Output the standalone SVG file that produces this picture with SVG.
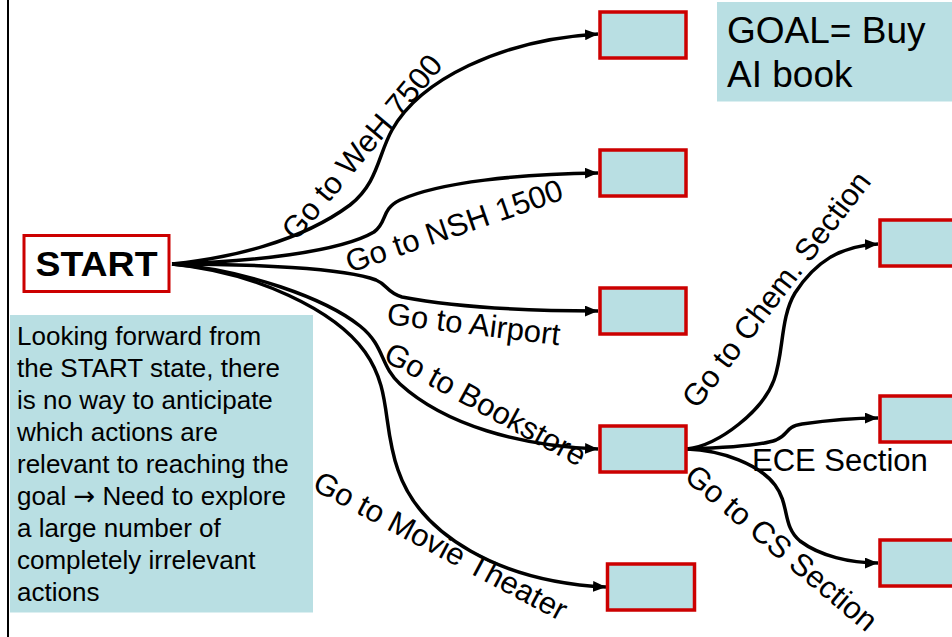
<svg xmlns="http://www.w3.org/2000/svg" width="952" height="637" viewBox="0 0 952 637">
  <defs>
    <style>
      .node { fill: #B9DFE3; stroke: #CC0000; stroke-width: 3.5; }
      .note { fill: #B9DFE3; stroke: none; }
      .edge { fill: none; stroke: #000; stroke-width: 3.5; }
      .lbl { font-family: "Liberation Sans", Arial, sans-serif; font-size: 31px; fill: #000; }
      .body { font-family: "Liberation Sans", Arial, sans-serif; font-size: 26px; fill: #000; }
      .goal { font-family: "Liberation Sans", Arial, sans-serif; font-size: 37px; fill: #000; }
      .start { font-family: "Liberation Sans", Arial, sans-serif; font-size: 35px; font-weight: bold; fill: #000; }
      .sym { font-family: "DejaVu Sans", sans-serif; }
    </style>
    <marker id="arr" viewBox="0 0 12 10" refX="12" refY="5" markerWidth="13" markerHeight="11" markerUnits="userSpaceOnUse" orient="auto">
      <path d="M0,0 L12,5 L0,10 z" fill="#000"/>
    </marker>
  </defs>

  <rect width="952" height="637" fill="#fff"/>
  <line x1="8" y1="0" x2="8" y2="637" stroke="#000" stroke-width="2"/>

  <g id="connectors">
    <path class="edge" marker-end="url(#arr)" d="M172,264 C230,258 300,242 350,205 C378,183 378,155 392,130 C420,80 500,40 598,34"/>
    <path class="edge" marker-end="url(#arr)" d="M172,264 C250,262 340,252 374,232 C388,222 380,210 400,200 C440,182 520,174 598,173"/>
    <path class="edge" marker-end="url(#arr)" d="M172,264 C250,264 345,268 376,280 C388,285 386,292 402,297 C460,308 530,311 598,311"/>
    <path class="edge" marker-end="url(#arr)" d="M172,264 C245,270 325,298 360,326 C385,346 380,366 400,384 C445,425 520,446 598,449"/>
    <path class="edge" marker-end="url(#arr)" d="M172,264 C255,272 335,310 365,352 C392,390 382,425 398,470 C420,535 500,582 606,587"/>
    <path class="edge" marker-end="url(#arr)" d="M687,449 C720,445 763,410 774,380 C784,352 780,318 795,293 C815,262 840,246 878,244"/>
    <path class="edge" marker-end="url(#arr)" d="M687,449 C720,448 760,446 776,440 C790,434 784,427 802,424 C830,420 855,418 878,418"/>
    <path class="edge" marker-end="url(#arr)" d="M687,449 C722,450 760,465 775,485 C790,505 782,526 800,541 C820,556 850,563 878,563"/>

    <text class="lbl" transform="translate(296,242) rotate(-50)">Go to WeH 7500</text>
    <text class="lbl" transform="translate(350,273) rotate(-19)">Go to NSH 1500</text>
    <text class="lbl" transform="translate(386,324) rotate(7)">Go to Airport</text>
    <text class="lbl" transform="translate(382,360) rotate(28.5)">Go to Bookstore</text>
    <text class="lbl" transform="translate(311,489) rotate(28)">Go to Movie Theater</text>
    <text class="lbl" transform="translate(697,410) rotate(-52.5)">Go to Chem. Section</text>
    <text class="lbl" x="752" y="471">ECE Section</text>
    <text class="lbl" transform="translate(683,479) rotate(40)">Go to CS Section</text>
  </g>

  <g id="start">
    <rect x="24" y="235.5" width="145" height="56" fill="#fff" stroke="#CC0000" stroke-width="3"/>
    <text class="start" x="96.5" y="276" text-anchor="middle" textLength="122" lengthAdjust="spacingAndGlyphs">START</text>
  </g>

  <g id="n-weh"><rect class="node" x="600" y="12" width="86" height="46"/></g>
  <g id="n-nsh"><rect class="node" x="600" y="150" width="86" height="46"/></g>
  <g id="n-airport"><rect class="node" x="600" y="288" width="86" height="46"/></g>
  <g id="n-bookstore"><rect class="node" x="600" y="426" width="86" height="46"/></g>
  <g id="n-movie"><rect class="node" x="607.5" y="564" width="87" height="46"/></g>
  <g id="n-chem"><rect class="node" x="880" y="220" width="80" height="46"/></g>
  <g id="n-ece"><rect class="node" x="880" y="396" width="80" height="46"/></g>
  <g id="n-cs"><rect class="node" x="880" y="540" width="80" height="46"/></g>

  <g id="goal-note">
    <rect class="note" x="717" y="2" width="240" height="99.5"/>
    <text class="goal" x="727" y="43">GOAL= Buy</text>
    <text class="goal" x="727" y="87">AI book</text>
  </g>

  <g id="explanation-note">
    <rect class="note" x="10" y="315" width="303" height="297.5"/>
    <text class="body" x="17" y="345">
      <tspan x="17" y="345">Looking forward from</tspan>
      <tspan x="17" y="377">the START state, there</tspan>
      <tspan x="17" y="409">is no way to anticipate</tspan>
      <tspan x="17" y="441">which actions are</tspan>
      <tspan x="17" y="473">relevant to reaching the</tspan>
      <tspan x="17" y="505">goal <tspan class="sym">→</tspan> Need to explore</tspan>
      <tspan x="17" y="537">a large number of</tspan>
      <tspan x="17" y="569">completely irrelevant</tspan>
      <tspan x="17" y="601">actions</tspan>
    </text>
  </g>
</svg>
